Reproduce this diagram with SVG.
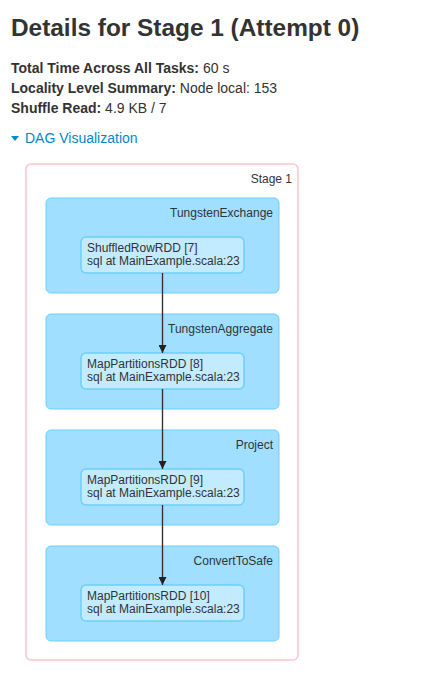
<svg xmlns="http://www.w3.org/2000/svg" width="438" height="676" viewBox="0 0 438 676">
<style>
text{font-family:"Liberation Sans",Arial,sans-serif;fill:#333333}
.h1{font-size:24.4px;font-weight:bold}
.info{font-size:14px}
.b{font-weight:bold}
.link{fill:#0088cc;font-size:14px}
.stage{fill:#ffffff;stroke:#ffc4d0;stroke-width:1.5}
.cluster{fill:#a0dfff;stroke:#6dcffc;stroke-width:1}
.node{fill:#c3ebff;stroke:#6dcffc;stroke-width:1.5}
.lbl{font-size:12px}
.r{text-anchor:end}
.edge{stroke:#333333;stroke-width:1.4;fill:none}
</style>
<defs>
<marker id="arrow" viewBox="0 0 10 10" refX="10" refY="5" markerWidth="8" markerHeight="8" markerUnits="userSpaceOnUse" orient="auto">
<path d="M0,0 L10,5 L0,10 z" fill="#222222"/>
</marker>
</defs>
<g id="header">
<text class="h1" x="11" y="36">Details for Stage 1 (Attempt 0)</text>
<text class="info" x="11" y="73"><tspan class="b">Total Time Across All Tasks:</tspan> 60 s</text>
<text class="info" x="11" y="93"><tspan class="b">Locality Level Summary:</tspan> Node local: 153</text>
<text class="info" x="11" y="113"><tspan class="b">Shuffle Read:</tspan> 4.9 KB / 7</text>
<path d="M11,136 L19,136 L15,141 z" fill="#0088cc"/>
<text class="link" x="25" y="143">DAG Visualization</text>
</g>
<g id="stage1">
<rect class="stage" x="26" y="164" width="272" height="496" rx="5"/>
<text class="lbl r" x="292" y="183">Stage 1</text>
</g>
<g id="cluster-tungstenexchange">
<rect class="cluster" x="46" y="198" width="233" height="95" rx="5"/>
<text class="lbl r" x="273" y="217">TungstenExchange</text>
</g>
<g id="cluster-tungstenaggregate">
<rect class="cluster" x="46" y="314" width="233" height="95" rx="5"/>
<text class="lbl r" x="273" y="333">TungstenAggregate</text>
</g>
<g id="cluster-project">
<rect class="cluster" x="46" y="430" width="233" height="95" rx="5"/>
<text class="lbl r" x="273" y="449">Project</text>
</g>
<g id="cluster-converttosafe">
<rect class="cluster" x="46" y="546" width="233" height="95" rx="5"/>
<text class="lbl r" x="273" y="565">ConvertToSafe</text>
</g>
<g id="node-7">
<rect class="node" x="81" y="237" width="163" height="36" rx="5"/>
<text class="lbl" x="87" y="252">ShuffledRowRDD [7]</text>
<text class="lbl" x="87" y="265">sql at MainExample.scala:23</text>
</g>
<g id="node-8">
<rect class="node" x="81" y="353" width="163" height="36" rx="5"/>
<text class="lbl" x="87" y="368">MapPartitionsRDD [8]</text>
<text class="lbl" x="87" y="381">sql at MainExample.scala:23</text>
</g>
<g id="node-9">
<rect class="node" x="81" y="469" width="163" height="36" rx="5"/>
<text class="lbl" x="87" y="484">MapPartitionsRDD [9]</text>
<text class="lbl" x="87" y="497">sql at MainExample.scala:23</text>
</g>
<g id="node-10">
<rect class="node" x="81" y="585" width="163" height="36" rx="5"/>
<text class="lbl" x="87" y="600">MapPartitionsRDD [10]</text>
<text class="lbl" x="87" y="613">sql at MainExample.scala:23</text>
</g>
<g id="connectors">
<line class="edge" x1="162.5" y1="273" x2="162.5" y2="353" marker-end="url(#arrow)"/>
<line class="edge" x1="162.5" y1="389" x2="162.5" y2="469" marker-end="url(#arrow)"/>
<line class="edge" x1="162.5" y1="505" x2="162.5" y2="585" marker-end="url(#arrow)"/>
</g>
</svg>
